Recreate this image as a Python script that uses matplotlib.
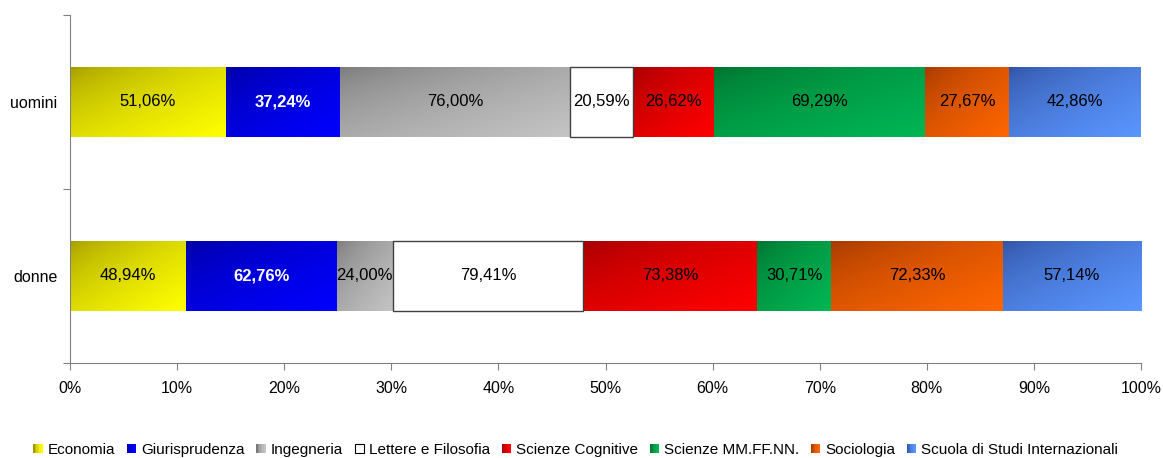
import numpy as np
import matplotlib
matplotlib.use("Agg")
import matplotlib.pyplot as plt
from matplotlib.colors import LinearSegmentedColormap
from matplotlib.patches import Rectangle
from matplotlib.legend_handler import HandlerBase

plt.rcParams['font.family'] = ['Liberation Sans', 'DejaVu Sans']

# categories (bottom to top) and faculties
groups = ["donne", "uomini"]
faculties = ["Economia", "Giurisprudenza", "Ingegneria", "Lettere e Filosofia",
             "Scienze Cognitive", "Scienze MM.FF.NN.", "Sociologia",
             "Scuola di Studi Internazionali"]

# share of each bar taken by the faculty (%)
donne_share = [10.80, 14.10, 5.26, 17.74, 16.25, 6.91, 16.05, 12.89]
uomini_share = [14.57, 10.64, 21.50, 5.83, 7.56, 19.73, 7.85, 12.32]

# printed labels
donne_labels = ["48,94%", "62,76%", "24,00%", "79,41%", "73,38%", "30,71%", "72,33%", "57,14%"]
uomini_labels = ["51,06%", "37,24%", "76,00%", "20,59%", "26,62%", "69,29%", "27,67%", "42,86%"]

# gradient colours (dark top-left -> bright bottom-right)
grad_colors = [("#a09800", "#ffff00"),
               ("#0000a0", "#0000ff"),
               ("#787878", "#c4c4c4"),
               ("#ffffff", "#ffffff"),
               ("#a00000", "#ff0000"),
               ("#00702e", "#00b654"),
               ("#a03800", "#ff6600"),
               ("#3050a0", "#5a96ff")]

axis_gray = "#808080"

fig = plt.figure(figsize=(11.63, 4.58), dpi=100)
ax = fig.add_axes([70 / 1163, 95 / 458, 1071 / 1163, 348 / 458])

# smooth diagonal ramp used to paint every segment (brightens quickly)
ramp = (np.add.outer(np.linspace(0, 1, 64), np.linspace(0, 1, 64)) / 2) ** 0.6

shares = [donne_share, uomini_share]
labels = [donne_labels, uomini_labels]
left = np.zeros(len(groups))
for i, fac in enumerate(faculties):
    widths = np.array([s[i] for s in shares])
    if fac == "Lettere e Filosofia":
        bars = ax.barh(groups, widths, left=left, height=0.4, color="white",
                       edgecolor="#404040", linewidth=1.0, zorder=3)
    else:
        bars = ax.barh(groups, widths, left=left, height=0.4, color=grad_colors[i][1],
                       linewidth=0, zorder=2)
        cmap = LinearSegmentedColormap.from_list(fac, grad_colors[i])
        for b in bars:
            x0, y0, w, h = b.get_x(), b.get_y(), b.get_width(), b.get_height()
            im = ax.imshow(ramp, cmap=cmap, extent=(x0, x0 + w, y0, y0 + h),
                           origin="upper", aspect="auto", interpolation="bilinear",
                           zorder=2.5)
            im.set_clip_path(b)
    for j, b in enumerate(bars):
        cx = b.get_x() + b.get_width() / 2
        cy = b.get_y() + b.get_height() / 2
        if fac == "Giurisprudenza":
            ax.text(cx, cy, labels[j][i], ha="center", va="center", fontsize=12,
                    color="white", fontweight="bold", zorder=5)
        else:
            ax.text(cx, cy, labels[j][i], ha="center", va="center", fontsize=12,
                    color="black", zorder=5)
    left += widths

ax.set_xlim(0, 100)
ax.set_ylim(-0.5, 1.5)
ax.set_xticks(np.arange(0, 101, 10))
ax.set_xticklabels([f"{v}%" for v in range(0, 101, 10)])
ax.set_yticks([-0.5, 0.5, 1.5])
ax.set_yticklabels([])
ax.set_yticks([0, 1], minor=True)
ax.set_yticklabels(groups, minor=True)
ax.tick_params(axis="y", which="major", direction="out", length=5, color=axis_gray)
ax.tick_params(axis="y", which="minor", length=0, pad=9, labelsize=11.5)
ax.tick_params(axis="x", direction="out", length=5, color=axis_gray, pad=8, labelsize=11.5)
for side in ["top", "right"]:
    ax.spines[side].set_visible(False)
for side in ["left", "bottom"]:
    ax.spines[side].set_color(axis_gray)


class GradientHandler(HandlerBase):
    def create_artists(self, legend, orig_handle, xdescent, ydescent, width, height,
                       fontsize, trans):
        c0, c1 = orig_handle.colors
        if c0 == "#ffffff":
            return [Rectangle((-xdescent, -ydescent), width, height, facecolor="white",
                              edgecolor="black", linewidth=0.8, transform=trans)]
        cmap = LinearSegmentedColormap.from_list("h", [c0, c1])
        n = 6
        arts = []
        for k in range(n):
            arts.append(Rectangle((-xdescent + k * width / n, -ydescent), width / n + 0.3, height,
                                  facecolor=cmap((k / (n - 1)) ** 0.6), edgecolor="none",
                                  transform=trans))
        return arts


class Swatch:
    def __init__(self, colors):
        self.colors = colors


handles = [Swatch(c) for c in grad_colors]
fig.legend(handles, faculties, handler_map={Swatch: GradientHandler()},
           loc="center", bbox_to_anchor=(0.495, 8 / 458), ncol=8, frameon=False,
           fontsize=11, handlelength=0.6, handleheight=0.6, handletextpad=0.35,
           columnspacing=0.75, borderaxespad=0)

fig.savefig("out.png", dpi=100)
